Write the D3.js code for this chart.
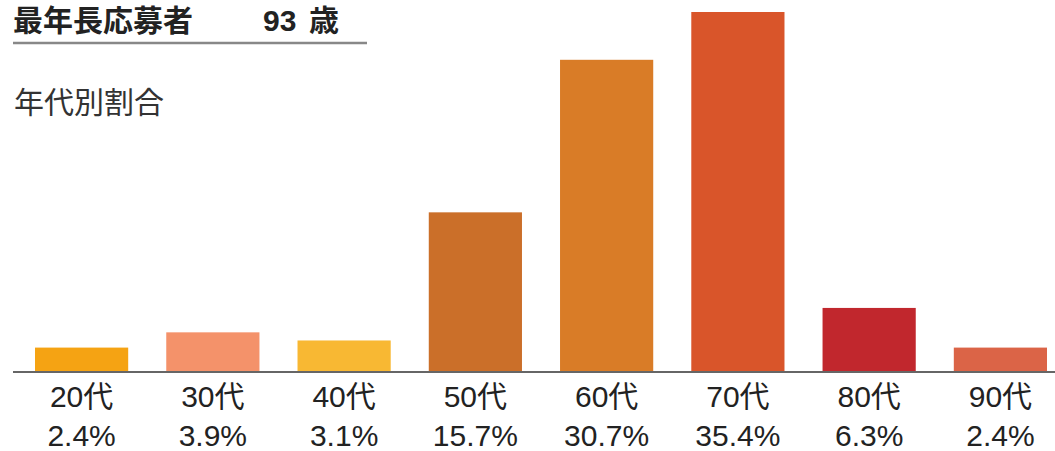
<!DOCTYPE html>
<html>
<head>
<meta charset="utf-8">
<script src="https://cdn.jsdelivr.net/npm/d3@7"></script>
<style>
  body { margin: 0; background: #fff; }
  svg { display: block; font-family: "Liberation Sans", "Noto Sans CJK JP", sans-serif; }
</style>
</head>
<body>
<svg width="1055" height="451"></svg>
<script>
// data
const categories = ["20代", "30代", "40代", "50代", "60代", "70代", "80代", "90代"]
const shares = [2.4, 3.9, 3.1, 15.7, 30.7, 35.4, 6.3, 2.4]
const barColors = ["#F5A313", "#F4926A", "#F8B833", "#CB6F29", "#D97C27", "#D9552A", "#C1272D", "#DB6447"]

const svg = d3.select("svg")

const baseY = 372

const xScale = d3.scaleBand()
                 .domain(categories)
                 .range([35, 1047])
                 .paddingInner(0.29)
                 .paddingOuter(0)

const yScale = d3.scaleLinear().domain([0, 35.4]).range([baseY, 12])

// header
svg.append("text")
   .attr("x", 13).attr("y", 31)
   .attr("font-size", 30).attr("font-weight", "bold").attr("fill", "#222")
   .attr("font-family", "Noto Sans CJK JP")
   .text("最年長応募者")

const age = svg.append("text")
   .attr("y", 31)
   .attr("font-size", 30).attr("font-weight", "bold").attr("fill", "#222")
age.append("tspan").attr("x", 263).text("93")
age.append("tspan").attr("x", 309).text("歳")

svg.append("line")
   .attr("x1", 13).attr("x2", 367)
   .attr("y1", 43).attr("y2", 43)
   .attr("stroke", "#888").attr("stroke-width", 2.5)

svg.append("text")
   .attr("x", 14).attr("y", 113)
   .attr("font-size", 30).attr("fill", "#333")
   .text("年代別割合")

// bars
svg.selectAll(".bar")
   .data(shares)
   .enter()
   .append("rect")
   .classed("bar", true)
   .attr("x", (d, i) => xScale(categories[i]))
   .attr("width", xScale.bandwidth())
   .attr("y", d => yScale(d))
   .attr("height", d => baseY - yScale(d))
   .attr("fill", (d, i) => barColors[i])

// axis line
svg.append("line")
   .attr("x1", 13).attr("x2", 1055)
   .attr("y1", baseY).attr("y2", baseY)
   .attr("stroke", "#666").attr("stroke-width", 2)

// labels under bars
const labels = svg.selectAll(".lbl")
   .data(categories)
   .enter()
   .append("g")
   .classed("lbl", true)
   .attr("transform", d => `translate(${xScale(d) + xScale.bandwidth() / 2},0)`)

labels.append("text")
      .attr("y", 407).attr("text-anchor", "middle")
      .attr("font-size", 30).attr("fill", "#222")
      .text(d => d)

labels.append("text")
      .attr("y", 446).attr("text-anchor", "middle")
      .attr("font-size", 30).attr("fill", "#222")
      .text((d, i) => shares[i] + "%")
</script>
</body>
</html>
